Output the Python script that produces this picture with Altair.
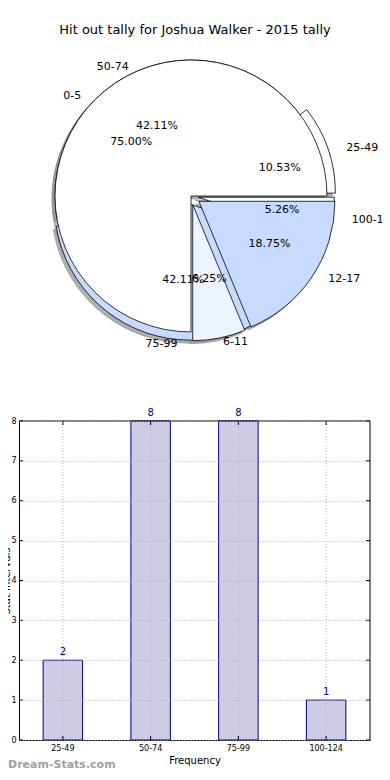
import math
import altair as alt
import pandas as pd

# ---------------- data ----------------
chart_title = "Hit out tally for Joshua Walker - 2015 tally"

# outer pie: frequency per stat interval
freq_labels = ["25-49", "50-74", "75-99", "100-124"]
freq_values = [2, 8, 8, 1]

# inner pie: range tally
range_labels = ["0-5", "6-11", "12-17"]
range_values = [12, 1, 3]

# bar chart
bar_categories = ["25-49", "50-74", "75-99", "100-124"]
bar_values = [2, 8, 8, 1]
y_ticks = [0, 1, 2, 3, 4, 5, 6, 7, 8]

x_title = "Frequency"
y_title = "Stat Intervals"
watermark = "Dream-Stats.com"

# ---------------- styles ----------------
freq_colors = ["#ffffff", "#eef4ff", "#c6dbff", "#ffffff"]
freq_explode = [0.065, 0.0, 0.06, 0.055]
range_colors = ["#ffffff", "#eef4ff", "#c6dbff"]
range_explode = [0.0, 0.065, 0.07]

FONT = "DejaVu Sans"
W, H = 351, 732          # view (plot) size; origin at page (19, 8)
CX, CY = 172, 188        # pie centre in view coordinates
R = 136                  # arc radius
RX, RY = 141, 128        # label ellipse radii
SHX, SHY = -3, 3         # shadow offset

freq_df = pd.DataFrame({"label": freq_labels, "value": freq_values,
                        "color": freq_colors, "explode": freq_explode,
                        "order": list(range(len(freq_labels)))})
range_df = pd.DataFrame({"label": range_labels, "value": range_values,
                         "color": range_colors, "explode": range_explode,
                         "order": list(range(len(range_labels)))})


def pie_base(df):
    return alt.Chart(df).transform_joinaggregate(
        total="sum(value)"
    ).transform_window(
        cum="sum(value)", sort=[alt.SortField("order")]
    ).transform_calculate(
        mid="2*PI*(datum.cum - datum.value/2)/datum.total",
        pct="format(100*datum.value/datum.total, '.2f') + '%'",
        ex=f"{CX} + datum.explode*{R}*cos(datum.mid)",
        ey=f"{CY} - datum.explode*{R}*sin(datum.mid)",
        sx=f"{CX} + datum.explode*{R}*cos(datum.mid) + ({SHX})",
        sy=f"{CY} - datum.explode*{R}*sin(datum.mid) + ({SHY})",
        lx=f"{CX} + (1.1 + datum.explode)*{RX}*cos(datum.mid)",
        ly=f"{CY} - (1.1 + datum.explode)*{RY}*sin(datum.mid)",
        px=f"{CX} + (0.6 + datum.explode)*{RX}*cos(datum.mid)",
        py=f"{CY} - (0.6 + datum.explode)*{RY}*sin(datum.mid)",
        side="cos(datum.mid) >= 0 ? 'L' : 'R'",
    )


theta_enc = alt.Theta("value:Q", stack="normalize",
                      scale=alt.Scale(range=[math.pi / 2, math.pi / 2 - 2 * math.pi]))


def arcs(df, shadow=False):
    b = pie_base(df)
    if shadow:
        return b.mark_arc(radius=R, fill="#9a9a9a", stroke="#7a7a7a",
                          strokeWidth=0.6, opacity=0.8).encode(
            theta=theta_enc, order=alt.Order("order:Q"),
            x=alt.X("sx:Q", scale=None, axis=None),
            y=alt.Y("sy:Q", scale=None, axis=None))
    return b.mark_arc(radius=R, stroke="black", strokeWidth=0.8).encode(
        theta=theta_enc, order=alt.Order("order:Q"),
        x=alt.X("ex:Q", scale=None, axis=None),
        y=alt.Y("ey:Q", scale=None, axis=None),
        fill=alt.Fill("color:N", scale=None))


def texts(df):
    b = pie_base(df)
    left = b.transform_filter("datum.side == 'L'").mark_text(
        align="left", baseline="middle", font=FONT, fontSize=11, color="black").encode(
        x=alt.X("lx:Q", scale=None, axis=None), y=alt.Y("ly:Q", scale=None, axis=None),
        text="label:N")
    right = b.transform_filter("datum.side == 'R'").mark_text(
        align="right", baseline="middle", font=FONT, fontSize=11, color="black").encode(
        x=alt.X("lx:Q", scale=None, axis=None), y=alt.Y("ly:Q", scale=None, axis=None),
        text="label:N")
    pct = b.mark_text(align="center", baseline="middle", font=FONT, fontSize=11,
                      color="black").encode(
        x=alt.X("px:Q", scale=None, axis=None), y=alt.Y("py:Q", scale=None, axis=None),
        text="pct:N")
    return [left, right, pct]


title_layer = alt.Chart(pd.DataFrame({"t": [chart_title]})).mark_text(
    font=FONT, fontSize=13, align="center", baseline="middle", color="black").encode(
    text="t:N", x=alt.value(176), y=alt.value(22))

# ---------------- bar chart ----------------
bar_df = pd.DataFrame({"cat": bar_categories, "val": bar_values})
tick_df = pd.DataFrame({"t": y_ticks})

xs = alt.Scale(domain=bar_categories, paddingInner=0.55, paddingOuter=0.275)
ys = alt.Scale(domain=[0, 8], range=[H, 413], nice=False, zero=True)

x_axis = alt.Axis(title=x_title, labelFont=FONT, labelFontSize=8, labelColor="black",
                  titleFont=FONT, titleFontSize=10, titleFontWeight="normal",
                  titleColor="black", labelAngle=0, ticks=False, labelPadding=4,
                  titlePadding=3, domainColor="black", grid=False)
y_axis = alt.Axis(title=y_title, values=y_ticks, format="d", labelFont=FONT,
                  labelFontSize=8, labelColor="black", titleFont=FONT, titleFontSize=10,
                  titleFontWeight="normal", titleColor="black", ticks=False,
                  labelPadding=3, titleX=-7.5, titleY=(413 + H) / 2, titleAngle=270,
                  titleBaseline="bottom", titleAlign="center",
                  domainColor="black",
                  grid=True, gridColor="#b0b0b0", gridDash=[1, 2], gridWidth=1,
                  zindex=1)

bars = alt.Chart(bar_df).mark_bar(fill="#ccccE5", stroke="#000080", strokeWidth=1).encode(
    x=alt.X("cat:N", scale=xs, axis=x_axis, sort=bar_categories),
    y=alt.Y("val:Q", scale=ys, axis=y_axis))

vgrid = alt.Chart(bar_df).mark_rule(color="#b0b0b0", strokeDash=[1, 2], strokeWidth=1).encode(
    x=alt.X("cat:N", sort=bar_categories), y=alt.datum(0), y2=alt.datum(8))

bar_text = alt.Chart(bar_df).mark_text(dy=-8, font=FONT, fontSize=10, color="#000080",
                                       baseline="middle").encode(
    x=alt.X("cat:N", sort=bar_categories), y="val:Q", text="val:Q")

top_frame = alt.Chart(pd.DataFrame({"v": [8]})).mark_rule(color="black", strokeWidth=1).encode(
    y=alt.Y("v:Q"))
right_frame = alt.Chart(pd.DataFrame({"a": [0], "b": [8]})).mark_rule(
    color="black", strokeWidth=1).encode(x=alt.value(W), y="a:Q", y2="b:Q")

ltick = alt.Chart(tick_df).mark_rule(color="black").encode(
    y="t:Q", x=alt.value(0), x2=alt.value(4))
rtick = alt.Chart(tick_df).mark_rule(color="black").encode(
    y="t:Q", x=alt.value(W - 4), x2=alt.value(W))
btick = alt.Chart(bar_df).mark_rule(color="black").encode(
    x=alt.X("cat:N", sort=bar_categories), y=alt.value(H), y2=alt.value(H - 4))
ttick = alt.Chart(bar_df).mark_rule(color="black").encode(
    x=alt.X("cat:N", sort=bar_categories), y=alt.value(413), y2=alt.value(417))

wm = alt.Chart(pd.DataFrame({"t": [watermark]})).mark_text(
    font=FONT, fontSize=11, fontWeight="bold", color="#a0a0a0", align="left",
    baseline="middle").encode(text="t:N", x=alt.value(-11), y=alt.value(757))

layers = [arcs(freq_df, True), arcs(range_df, True), arcs(freq_df), arcs(range_df)]
layers += texts(freq_df) + texts(range_df)
layers += [title_layer, bars, vgrid, bar_text, top_frame, right_frame,
           ltick, rtick, btick, ttick, wm]

chart = alt.layer(*layers).properties(
    width=W, height=H,
    autosize=alt.AutoSizeParams(type="none"),
    padding={"left": 11, "top": 0, "right": 12, "bottom": 32},
).configure(font=FONT, background="white").configure_view(stroke=None)

chart.save("out.html", embed_options={"renderer": "svg", "actions": False})
